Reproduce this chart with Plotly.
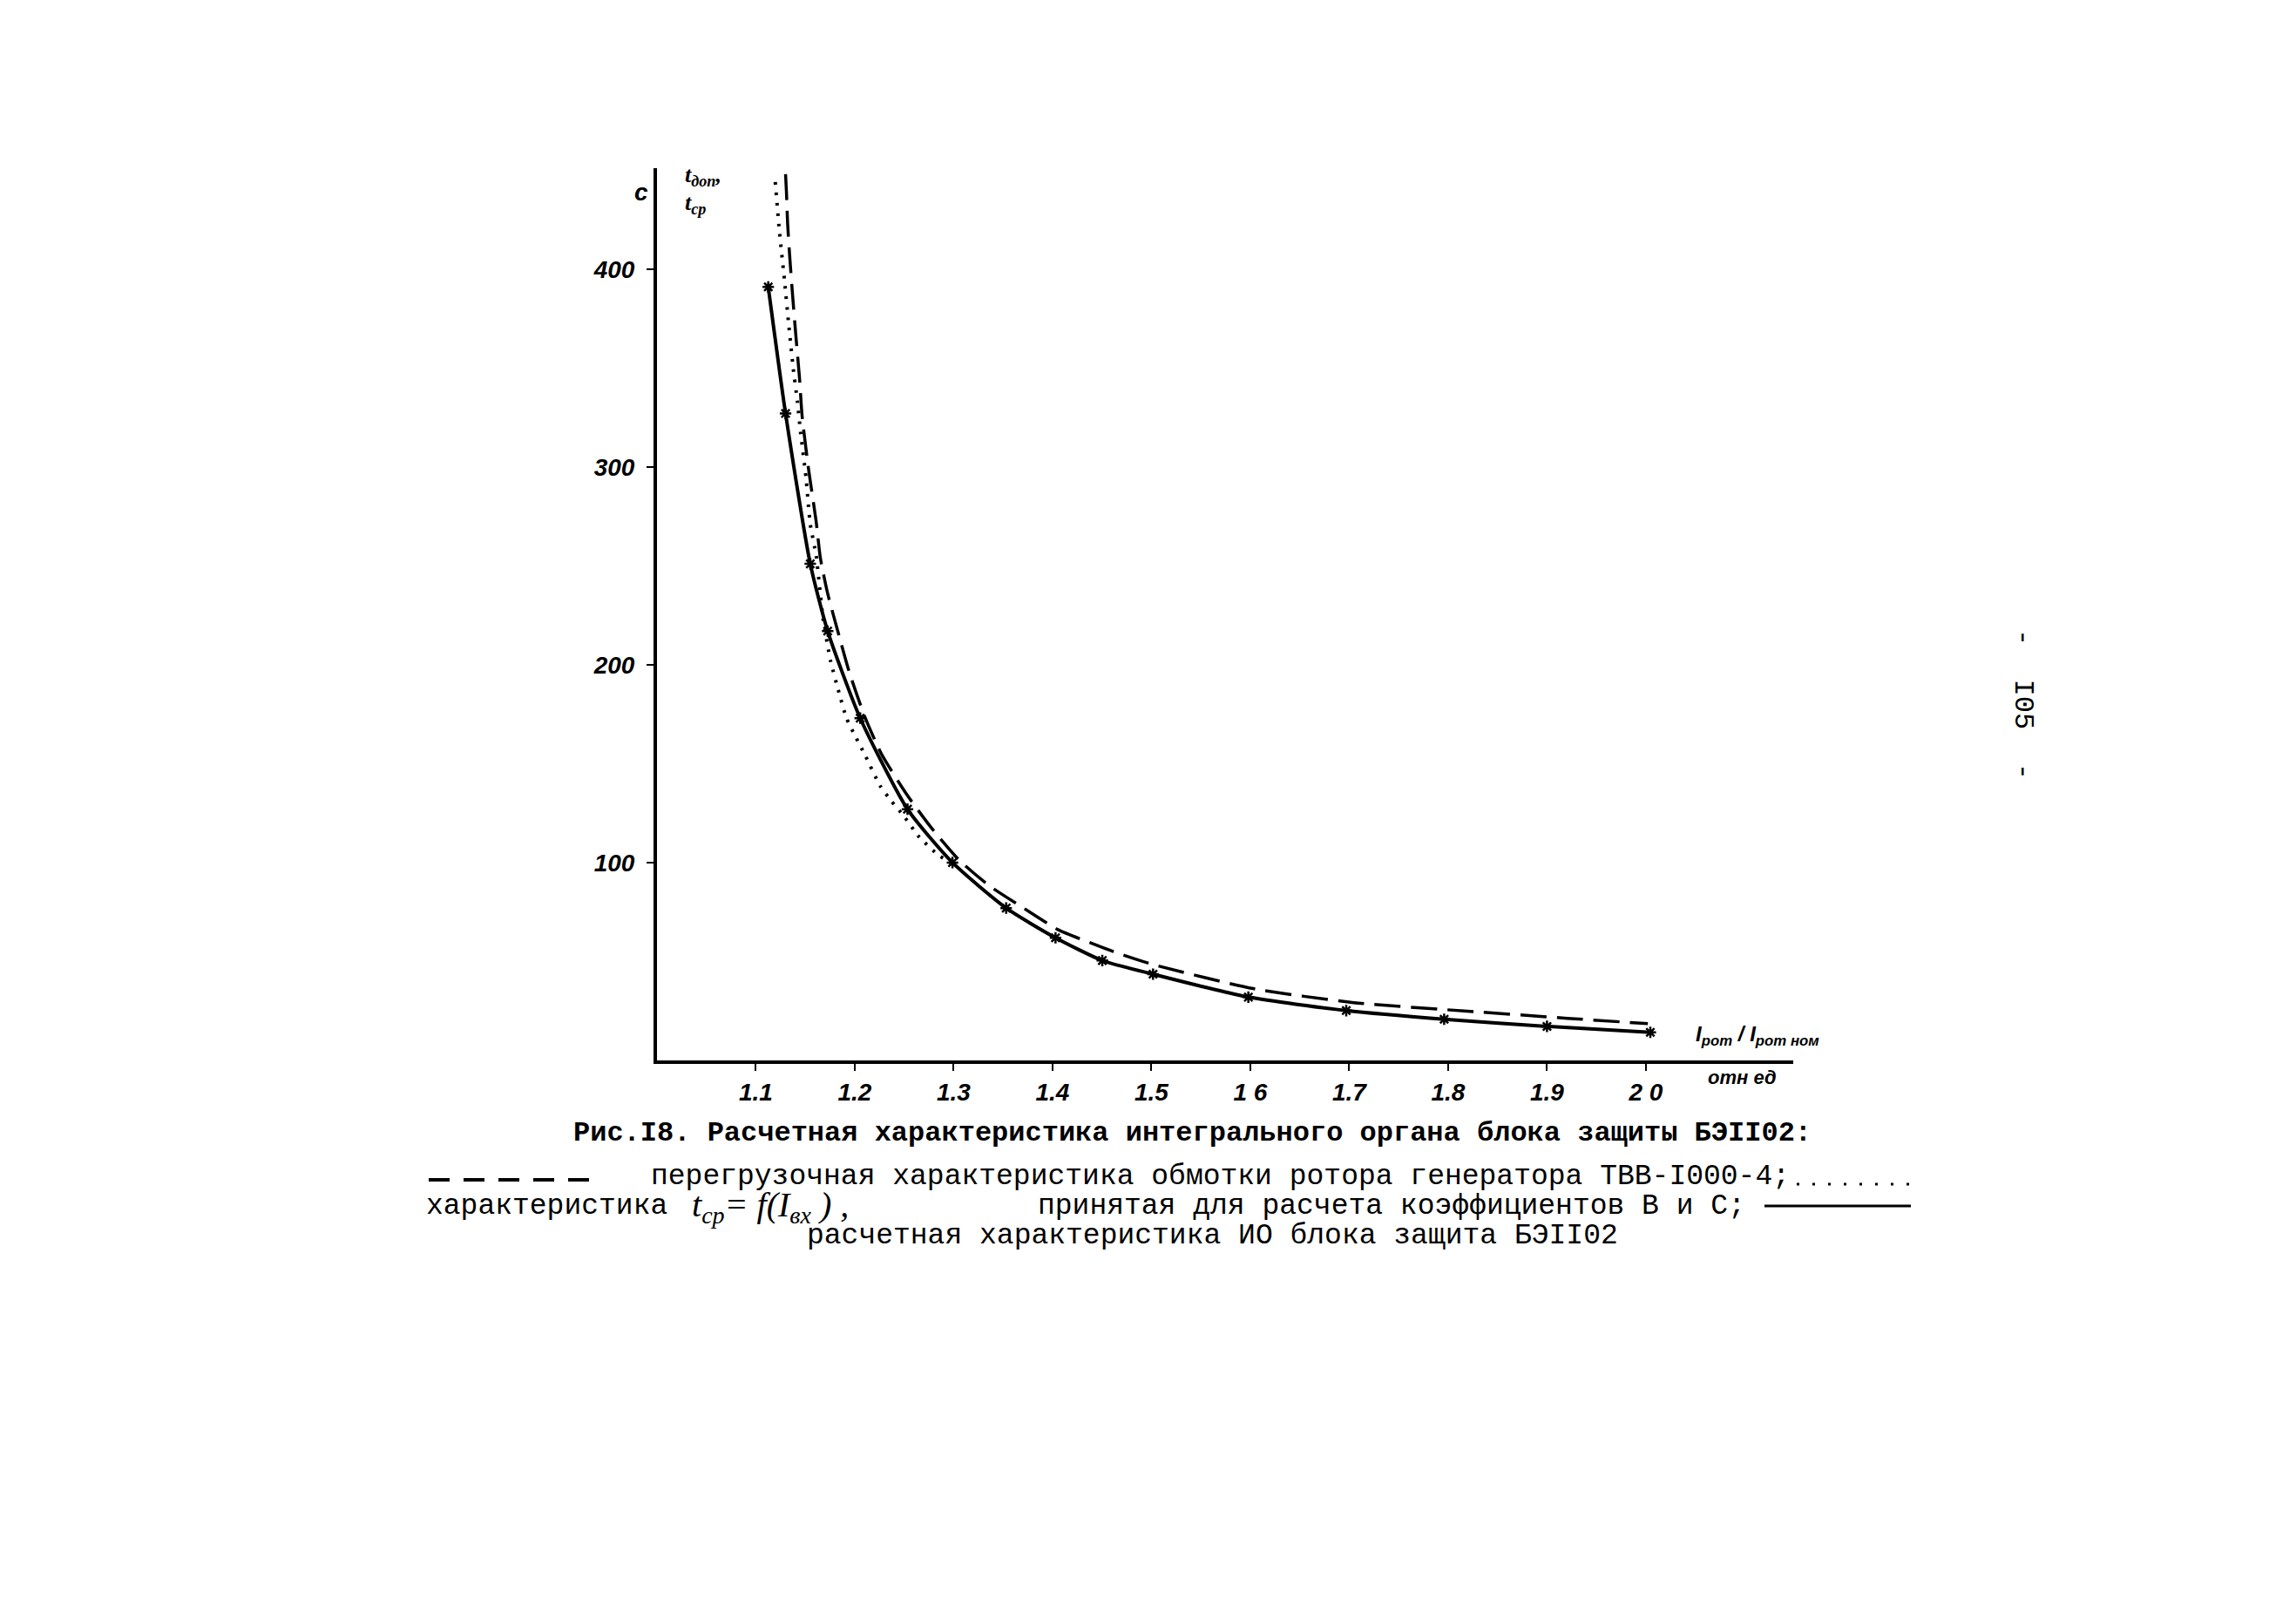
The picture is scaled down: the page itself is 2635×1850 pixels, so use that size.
import plotly.graph_objects as go

# ---- data ----
# dashed: overload characteristic of rotor winding (TVV-1000-4)
dash_x = [1.130, 1.1309, 1.1321, 1.1344, 1.1374, 1.1403, 1.1441, 1.1467, 1.1535, 1.1608,
          1.1652, 1.1726, 1.1828, 1.1946, 1.2107, 1.2269, 1.2518, 1.2768, 1.3061, 1.3355,
          1.3707, 1.4059, 1.4381, 1.4616, 1.5016, 1.603, 1.7046, 1.8164, 1.9207, 2.002]
dash_y = [448, 439, 423, 405, 385, 367, 345, 326, 298, 273,
          254, 236, 217, 196, 173, 155, 135, 118, 101, 88.5,
          77, 66, 59.5, 55, 48.5, 36.3, 29.2, 25, 21.3, 18.6]

# dotted: t_cp = f(I_bx) used for coefficients B and C
dot_x = [1.1196, 1.124, 1.129, 1.133, 1.1377, 1.142, 1.1453, 1.1506, 1.155, 1.161,
         1.168, 1.1755, 1.184, 1.1916, 1.2004, 1.2107, 1.2254, 1.2371, 1.2489, 1.265,
         1.2841, 1.300]
dot_y = [444, 418, 394, 373, 350, 333, 317, 295, 271, 255,
         223, 202, 186, 173, 164, 154, 139, 131, 124, 113,
         104, 99]

# solid: calculated characteristic of integral organ of BE1102
solid_x = [1.1125, 1.130, 1.155, 1.1726, 1.2055, 1.2533, 1.2988, 1.3531, 1.403, 1.4503,
           1.5016, 1.598, 1.697, 1.796, 1.900, 2.0045]
solid_y = [391, 327, 251, 217, 173, 127, 100, 77, 62, 50.5,
           43.6, 32, 25.2, 20.8, 17.2, 14.2]

x_tickvals = [1.1, 1.2, 1.3, 1.4, 1.5, 1.6, 1.7, 1.8, 1.9, 2.0]
x_ticktext = ["1.1", "1.2", "1.3", "1.4", "1.5", "1 6", "1.7", "1.8", "1.9", "2 0"]
y_tickvals = [100, 200, 300, 400]
y_ticktext = ["100", "200", "300", "400"]

W, H = 2635, 1850
L, R, T, B = 746, 585, 185, 641
PW, PH = W - L - R, H - T - B


def px(X):
    return (X - L) / PW


def py(Y):
    return (H - B - Y) / PH


fig = go.Figure()
fig.add_trace(go.Scatter(x=dash_x, y=dash_y, mode="lines",
                         line=dict(color="black", width=3.5, dash="30px,12px", shape="spline", smoothing=0.6),
                         showlegend=False, hoverinfo="skip"))
fig.add_trace(go.Scatter(x=dot_x, y=dot_y, mode="lines",
                         line=dict(color="black", width=4, dash="3px,9px", shape="spline", smoothing=0.5),
                         showlegend=False, hoverinfo="skip"))
fig.add_trace(go.Scatter(x=solid_x, y=solid_y, mode="lines+markers",
                         line=dict(color="black", width=4, shape="spline", smoothing=0.6),
                         marker=dict(symbol="asterisk-open", size=11, color="black",
                                     line=dict(color="black", width=2.5)),
                         showlegend=False, hoverinfo="skip"))

tick_font = dict(family="Liberation Sans", size=28, color="black", style="italic", weight="bold")
fig.update_xaxes(range=[1.0, 2.149], showline=True, linewidth=4, linecolor="black",
                 showgrid=False, zeroline=False, ticks="outside", ticklen=8, tickwidth=2,
                 tickcolor="black", tickvals=x_tickvals, ticktext=x_ticktext, tickfont=tick_font)
fig.update_yaxes(range=[0, 451], showline=True, linewidth=4, linecolor="black",
                 showgrid=False, zeroline=False, ticks="outside", ticklen=8, tickwidth=2,
                 tickcolor="black", tickvals=y_tickvals, ticktext=y_ticktext, tickfont=tick_font,
                 ticklabelstandoff=8)

mono = "Liberation Mono"
ann = []


def add(text, X, Y, size, xanchor="left", family=mono, italic=False, bold=False, angle=0):
    f = dict(family=family, size=size, color="black")
    if italic:
        f["style"] = "italic"
    if bold:
        f["weight"] = "bold"
    ann.append(dict(text=text, x=px(X), y=py(Y), xref="paper", yref="paper",
                    xanchor=xanchor, yanchor="middle", showarrow=False, font=f, textangle=angle))


add("c", 728, 212, 28, xanchor="center", family="Liberation Sans", italic=True, bold=True)
add("<i>t</i><sub>доп</sub>,", 776, 194, 26, family="Liberation Serif", italic=True, bold=True)
add("<i>t</i><sub>ср</sub>", 776, 226, 26, family="Liberation Serif", italic=True, bold=True)
add("<i>I</i><sub>рот</sub> / <i>I</i><sub>рот ном</sub>", 1936, 1180, 24,
    family="Liberation Sans", italic=True, bold=True)
add("отн ед", 1950, 1228, 22, family="Liberation Sans", italic=True, bold=True)

add("Рис.I8. Расчетная характеристика интегрального органа блока защиты БЭII02:", 1360, 1292, 32,
    xanchor="center", bold=True)
add("перегрузочная характеристика обмотки ротора генератора ТВВ-I000-4;", 737, 1342, 33)
add("характеристика", 479, 1376, 33)
add("<i>t</i><sub>ср</sub>= <i>f</i>(<i>I</i><sub>вх</sub> ) ,", 784, 1377, 40,
    family="Liberation Serif", italic=True)
add("принятая для расчета коэффициентов В и С;", 1181, 1376, 33)
add("расчетная характеристика ИО блока защита БЭII02", 916, 1410, 33)
add("-  I05  -", 2314, 800, 32, xanchor="center", angle=90)

shapes = [
    dict(type="line", xref="paper", yref="paper", x0=px(484), x1=px(681), y0=py(1346), y1=py(1346),
         line=dict(color="black", width=4, dash="24px,16px")),
    dict(type="line", xref="paper", yref="paper", x0=px(2054), x1=px(2185), y0=py(1351), y1=py(1351),
         line=dict(color="black", width=3, dash="3px,15px")),
    dict(type="line", xref="paper", yref="paper", x0=px(2017), x1=px(2185), y0=py(1376), y1=py(1376),
         line=dict(color="black", width=3)),
]

fig.update_layout(width=W, height=H, margin=dict(l=L, r=R, t=T, b=B, autoexpand=False),
                  paper_bgcolor="white", plot_bgcolor="white",
                  annotations=ann, shapes=shapes, showlegend=False)

fig.write_html("out.html")
